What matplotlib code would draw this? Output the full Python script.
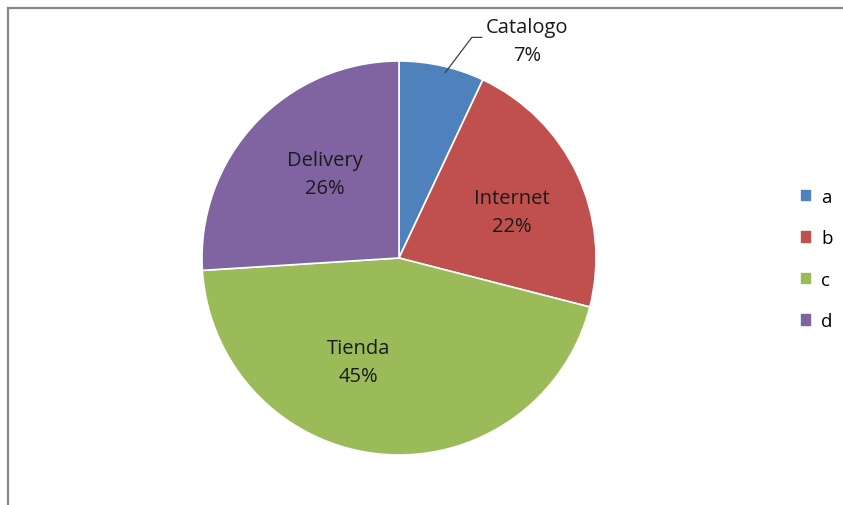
import numpy as np
import matplotlib
matplotlib.use('Agg')
import matplotlib.pyplot as plt
from matplotlib.patches import Rectangle

# datos del grafico
categorias = ['Catalogo', 'Internet', 'Tienda', 'Delivery']
porcentajes = [7, 22, 45, 26]
leyenda = ['a', 'b', 'c', 'd']
colores = ['#4F81BD', '#C0504D', '#9BBB59', '#8064A2']

plt.rcParams['font.family'] = ['Open Sans', 'DejaVu Sans']

W, H = 843, 506
fig = plt.figure(figsize=(W / 100, H / 100), dpi=100)

# marco gris (solo izquierda y arriba visibles)
fig.patches.append(Rectangle((7.5 / W, -0.1), 1.2, (H - 8.5) / H + 0.1,
                             transform=fig.transFigure, fill=False,
                             edgecolor='#878787', linewidth=1.6))

# ejes en pixeles: radio 197 px, centro (399, 259)
r_px = 197
cx, cy = 399, H - 259
ax = fig.add_axes([0, 0, 1, 1])
ax.axis('off')

wedges, _ = ax.pie(porcentajes, colors=colores, startangle=90,
                   counterclock=False, radius=1,
                   wedgeprops=dict(edgecolor='white', linewidth=1.2))
ax.set_xlim(-cx / r_px, (W - cx) / r_px)
ax.set_ylim(-cy / r_px, (H - cy) / r_px)
ax.set_aspect('auto')

# posicion de etiquetas: (distancia radial, ajuste de angulo)
ajustes = {'Catalogo': (1.28, -18), 'Internet': (0.62, -3),
           'Tienda': (0.565, -16), 'Delivery': (0.57, -5.5)}
fs = 14.5
for w, cat, p in zip(wedges, categorias, porcentajes):
    theta = np.deg2rad((w.theta1 + w.theta2) / 2 + ajustes[cat][1])
    d = ajustes[cat][0]
    x, y = d * np.cos(theta), d * np.sin(theta)
    ax.text(x, y, f'{cat}\n{p}%', ha='center', va='center', fontsize=fs,
            color='#1a1a1a', linespacing=1.52)
    if cat == 'Catalogo':
        # linea guia
        tm = np.deg2rad(76)
        x0, y0 = 0.97 * np.cos(tm), 0.97 * np.sin(tm)
        ax.plot([x0, 0.37, 0.42], [y0, 1.12, 1.12], color='#404040', lw=0.9)

# leyenda
handles = [Rectangle((0, 0), 1, 1, color=c) for c in colores]
fig.legend(handles, leyenda, loc='center left',
           bbox_to_anchor=(784 / W, 1 - 260 / H), frameon=False,
           fontsize=13.5, handlelength=0.48, handleheight=0.48,
           handletextpad=0.6, labelspacing=1.25)

fig.savefig('out.png', dpi=100)
